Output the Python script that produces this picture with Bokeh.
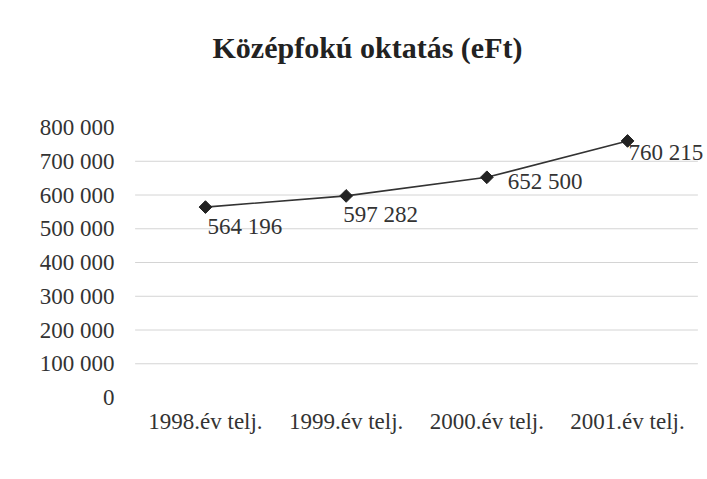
import math
from bokeh.plotting import figure
from bokeh.models import ColumnDataSource, FixedTicker, LabelSet, Label, Range1d
from bokeh.embed import file_html
from bokeh.resources import INLINE

# ---- data ----
categories = ["1998.év telj.", "1999.év telj.", "2000.év telj.", "2001.év telj."]
values = [564196, 597282, 652500, 760215]
value_labels = ["564 196", "597 282", "652 500", "760 215"]
y_ticks = [0, 100000, 200000, 300000, 400000, 500000, 600000, 700000, 800000]
y_tick_labels = ["0", "100 000", "200 000", "300 000", "400 000", "500 000",
                 "600 000", "700 000", "800 000"]
grid_ticks = [100000, 200000, 300000, 400000, 500000, 600000, 700000]
title_text = "Középfokú oktatás (eFt)"

# label placement offsets (style)
label_dx = [2, -3, 21, 1]
label_dy = [-19, -19, -4, -12]

FONT = "Liberation Serif"
Y_AXIS_MAX = 800000
FRAME_H = 397          # frame height in px (top of canvas to x-axis)
AXIS_PX = 270          # px spanned by 0..Y_AXIS_MAX
y_top = Y_AXIS_MAX * FRAME_H / AXIS_PX   # headroom above the axis for the title

p = figure(width=706, height=462, x_range=categories,
           y_range=Range1d(0, y_top), title_location=None,
           output_backend="svg", toolbar_location=None,
           min_border_left=126, min_border_right=0, min_border_bottom=65,
           min_border_top=0)
p.outline_line_color = None
p.background_fill_color = "white"
p.border_fill_color = "white"
p.x_range.range_padding = 0.0306

title = Label(x=86, y=FRAME_H - 47, x_units="screen", y_units="screen",
              text=title_text, text_font=FONT, text_font_size="30px",
              text_font_style="bold", text_color="#222222",
              text_align="left", text_baseline="alphabetic")
p.add_layout(title)

p.yaxis.ticker = FixedTicker(ticks=y_ticks)
p.yaxis.major_label_overrides = {t: l for t, l in zip(y_ticks, y_tick_labels)}
for ax in (p.xaxis, p.yaxis):
    ax.axis_line_color = None
    ax.major_tick_line_color = None
    ax.minor_tick_line_color = None
    ax.major_label_text_font = FONT
    ax.major_label_text_font_size = "23px"
    ax.major_label_text_color = "#333333"
p.yaxis.major_label_standoff = 6
p.xaxis.major_label_standoff = 5

p.xgrid.grid_line_color = None
p.ygrid.grid_line_color = None

n = len(grid_ticks)
grid_src = ColumnDataSource(dict(
    x0=[(categories[0], -0.5)] * n, x1=[(categories[-1], 0.5)] * n,
    y=grid_ticks))
p.segment(x0="x0", y0="y", x1="x1", y1="y", source=grid_src,
          line_color="#d4d4d4", line_width=1, level="underlay")

src = ColumnDataSource(dict(x=categories, y=values, lab=value_labels,
                            dx=label_dx, dy=label_dy))
p.line("x", "y", source=src, line_color="#333333", line_width=1.6)
p.scatter("x", "y", source=src, marker="square", size=9, angle=math.pi / 4,
          fill_color="#222222", line_color="#222222")

labels = LabelSet(x="x", y="y", text="lab", source=src, x_offset="dx",
                  y_offset="dy", text_font=FONT, text_font_size="23px",
                  text_color="#333333", text_align="left",
                  text_baseline="middle")
p.add_layout(labels)

open("out.html", "w").write(file_html(p, INLINE))
